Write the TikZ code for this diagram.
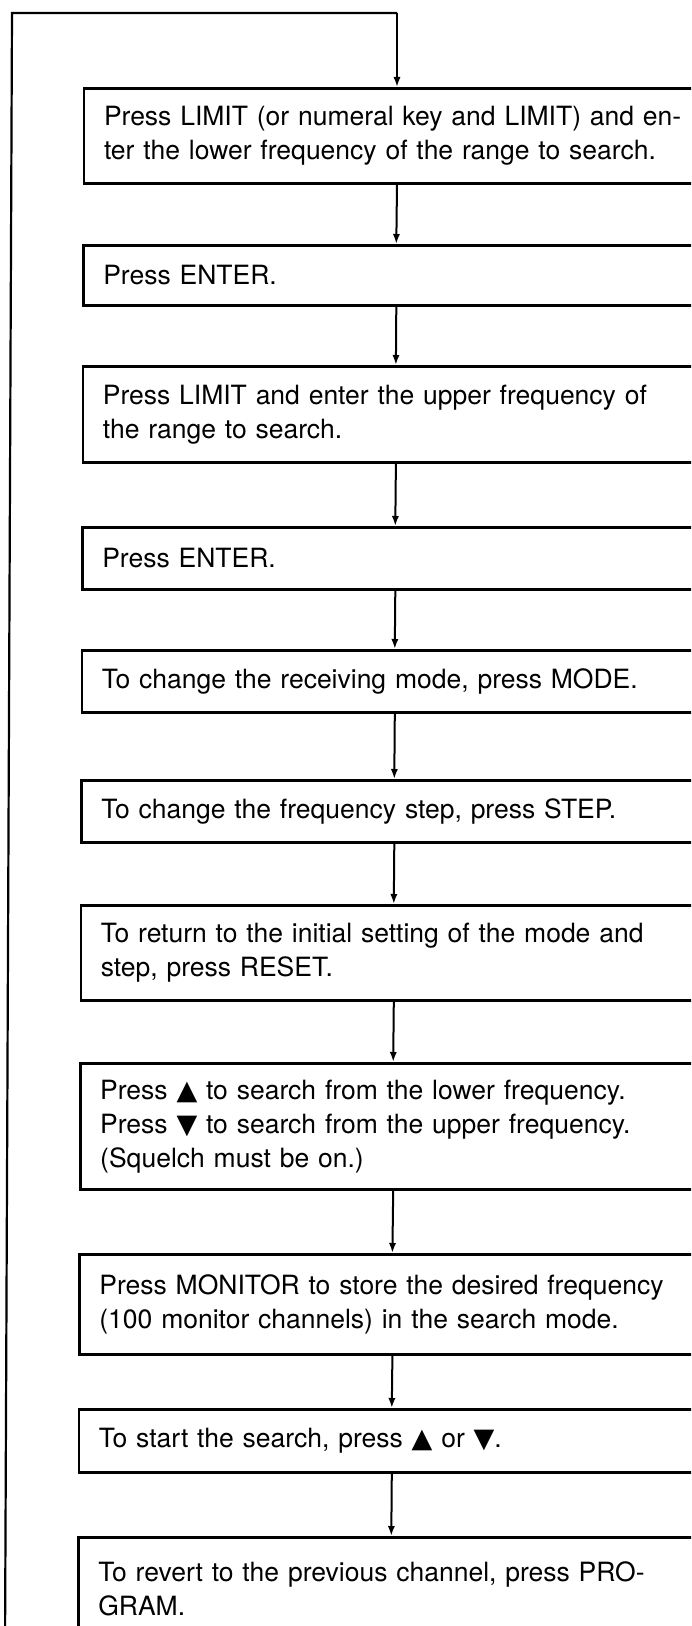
\documentclass[tikz,border=0pt]{standalone}
\usepackage{fontspec}
\usepackage{graphicx}
\setmainfont{TeX Gyre Heros}
\newfontfamily\symf{DejaVu Sans}
\usetikzlibrary{arrows.meta}
\newcommand{\upT}{{\symf\scalebox{1.02}{▲}}}
\newcommand{\dnT}{{\symf\scalebox{1.02}{▼}}}
\newcommand{\jl}[1]{\leavevmode\hbox to 284pt{#1}}
\begin{document}
\begin{tikzpicture}[x=0.5pt,y=-0.5pt,
  stepbox/.style={draw, line width=1.3pt, anchor=north west, minimum width=313pt,
    inner xsep=10pt, inner ysep=0pt, text width=293pt, align=left,
    font=\fontsize{13.25pt}{17pt}\selectfont},
  arr/.style={line width=1pt, -{Latex[length=5pt,width=3.6pt]}},
  loopline/.style={line width=1.1pt}]
\useasboundingbox (0,0) rectangle (691,1626);
\clip (0,0) rectangle (691,1626);
\node[stepbox, minimum height=47.5pt] (b1) at (82.7,87)
  {\jl{Press LIMIT (or numeral key and LIMIT) and en-}\\ter the lower frequency of the range to search.};
\node[stepbox, minimum height=30pt] (b2) at (82,244) {Press ENTER.};
\node[stepbox, minimum height=48pt] (b3) at (81.6,365)
  {\jl{Press LIMIT and enter the upper frequency of}\\the range to search.};
\node[stepbox, minimum height=31pt] (b4) at (81,526) {Press ENTER.};
\node[stepbox, minimum height=31pt] (b5) at (80.5,649) {To change the receiving mode, press MODE.};
\node[stepbox, minimum height=31pt] (b6) at (80,779) {To change the frequency step, press STEP.};
\node[stepbox, minimum height=47.5pt] (b7) at (79.5,904)
  {\jl{To return to the initial setting of the mode and}\\step, press RESET.};
\node[stepbox, minimum height=63pt] (b8) at (78.9,1062)
  {\jl{Press \upT{} to search from the lower frequency.}\\\jl{Press \dnT{} to search from the upper frequency.}\\(Squelch must be on.)};
\node[stepbox, minimum height=50pt] (b9) at (78.1,1253)
  {\jl{Press MONITOR to store the desired frequency}\\(100 monitor channels) in the search mode.};
\node[stepbox, minimum height=31.5pt] (b10) at (77.5,1408) {To start the search, press \upT{} or \dnT.};
\node[stepbox, minimum height=52pt] (b11) at (77,1536)
  {\jl{To revert to the previous channel, press PRO-}\\GRAM.};
\coordinate (lb) at (5,1650);
\coordinate (tl) at (12,13);
\coordinate (tc) at (b1.north |- tl);
\draw[loopline] (lb) -- (tl) -- (tc);
\draw[arr] (tc) -- (b1.north);
\draw[arr] (b1.south) -- (b2.north);
\draw[arr] (b2.south) -- (b3.north);
\draw[arr] (b3.south) -- (b4.north);
\draw[arr] (b4.south) -- (b5.north);
\draw[arr] (b5.south) -- (b6.north);
\draw[arr] (b6.south) -- (b7.north);
\draw[arr] (b7.south) -- (b8.north);
\draw[arr] (b8.south) -- (b9.north);
\draw[arr] (b9.south) -- (b10.north);
\draw[arr] (b10.south) -- (b11.north);
\end{tikzpicture}
\end{document}
